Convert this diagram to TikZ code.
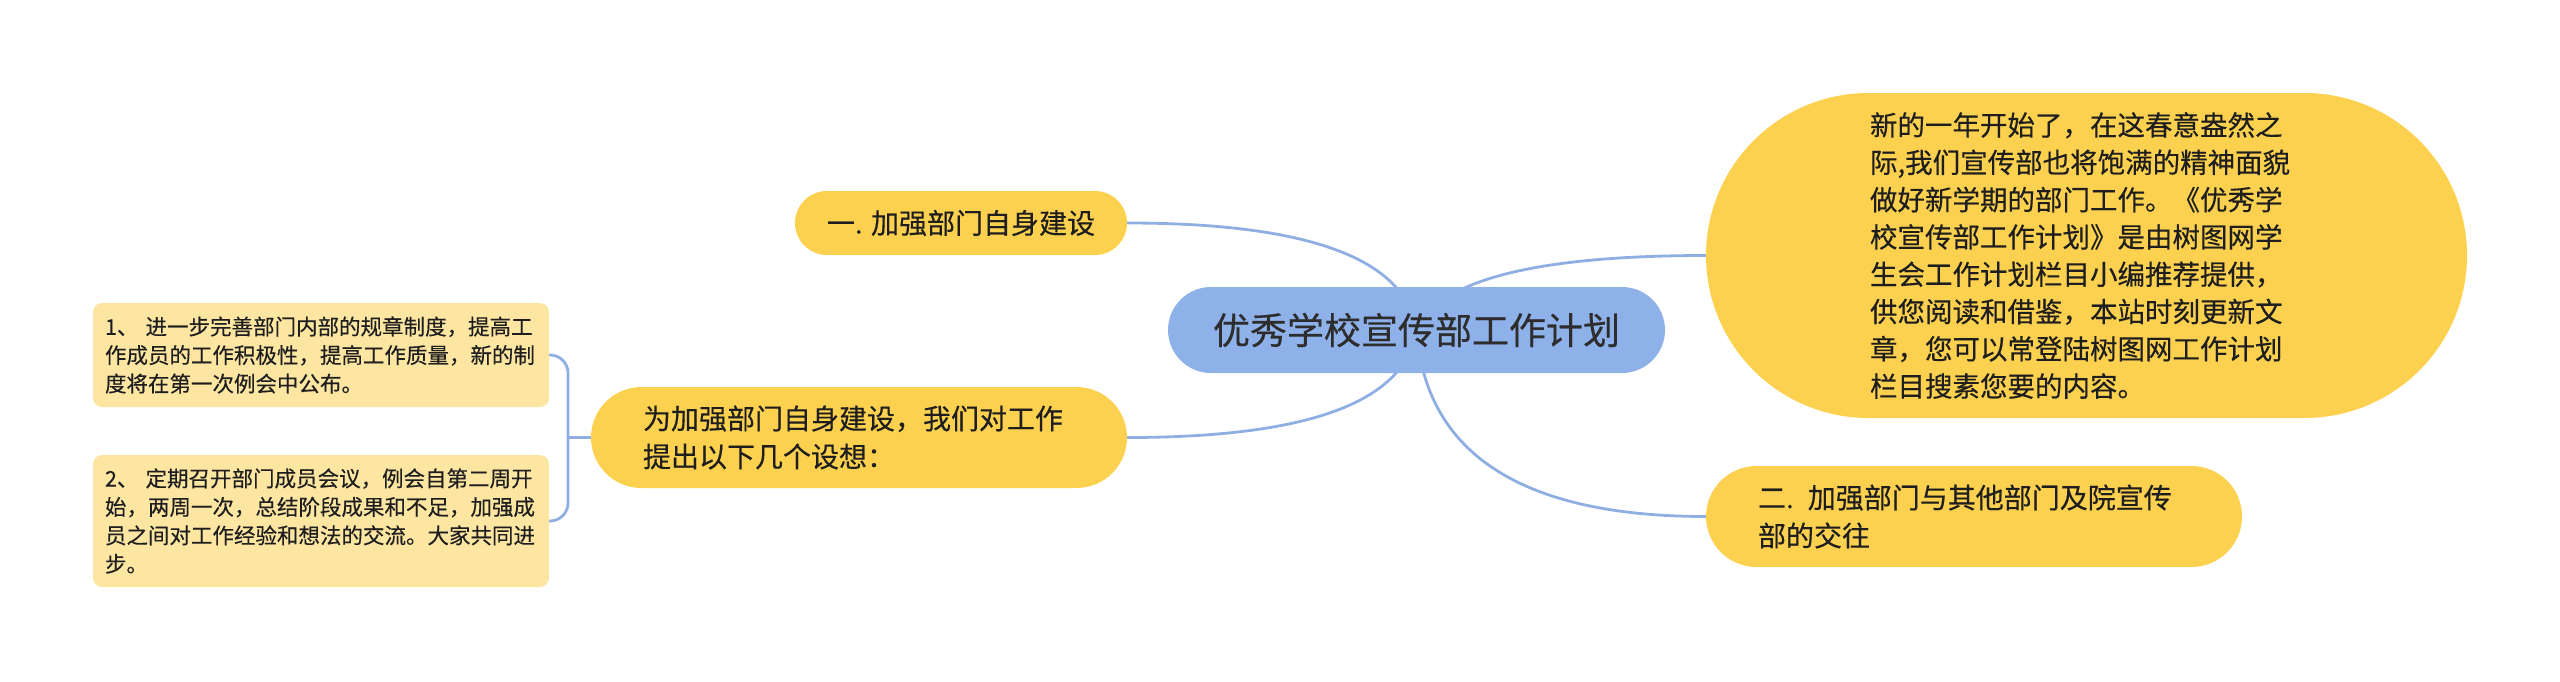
\documentclass[tikz,border=0pt]{standalone}
\usepackage{fontspec}
\setmainfont{Noto Sans CJK SC}[FakeBold=0.35]
\usetikzlibrary{backgrounds}
\definecolor{ybox}{RGB}{253,209,80}
\definecolor{lbox}{RGB}{253,230,162}
\definecolor{cbox}{RGB}{143,177,233}
\definecolor{conn}{RGB}{143,174,226}
\definecolor{txt}{RGB}{30,30,30}
\definecolor{ctxt}{RGB}{45,45,45}
\begin{document}
\begin{tikzpicture}[x=1pt,y=-1pt,
  every node/.style={inner sep=0pt, outer sep=0pt},
  link/.style={draw=conn, line width=2.8pt},
  topic/.style={fill=ybox, text=txt, font=\fontsize{28}{38}\selectfont, align=left},
  leaf/.style={fill=lbox, text=txt, rounded corners=9pt, font=\fontsize{21.5}{28.5}\selectfont, align=left, minimum width=456pt, text width=432pt, inner xsep=12pt},
]
\useasboundingbox (0,0) rectangle (2560,681);
\node[fill=cbox, rounded corners=43pt, minimum width=497pt, minimum height=86pt, text=ctxt, font=\fontsize{37}{44}\selectfont] (c) at (1416.5,330) {优秀学校宣传部工作计划};
\node[topic, rounded corners=32pt, minimum width=332pt, minimum height=64pt, align=center] (a) at (961,223) {一. 加强部门自身建设};
\node[topic, rounded corners=50.5pt, minimum height=101pt, text width=432pt, inner xsep=52pt] (b) at (859,437.5) {为加强部门自身建设，我们对工作\\提出以下几个设想：};
\node[topic, rounded corners=162.5pt, minimum height=325pt, text width=433pt, inner xsep=164pt, font=\fontsize{27.5}{37.3}\selectfont] (r) at (2086.5,255.5) {新的一年开始了，在这春意盎然之\\际,我们宣传部也将饱满的精神面貌\\做好新学期的部门工作。《优秀学\\校宣传部工作计划》是由树图网学\\生会工作计划栏目小编推荐提供，\\供您阅读和借鉴，本站时刻更新文\\章，您可以常登陆树图网工作计划\\栏目搜素您要的内容。};
\node[topic, rounded corners=50.5pt, minimum height=101pt, text width=432pt, inner xsep=52pt] (d) at (1974,516.5) {二. 加强部门与其他部门及院宣传\\部的交往};
\node[leaf, minimum height=104pt] (l1) at (321,355) {1、 进一步完善部门内部的规章制度，提高工\\作成员的工作积极性，提高工作质量，新的制\\度将在第一次例会中公布。};
\node[leaf, minimum height=132pt] (l2) at (321,521) {2、 定期召开部门成员会议，例会自第二周开\\始，两周一次，总结阶段成果和不足，加强成\\员之间对工作经验和想法的交流。大家共同进\\步。};
\coordinate (bk) at (568,437.5);
\begin{scope}[on background layer]
\draw[link] (c.center) .. controls (1405.3,258.7) and (1309,223) .. (a.east);
\draw[link] (c.center) .. controls (1405.3,402) and (1309,437.5) .. (b.east);
\draw[link] (c.center) .. controls (1438.7,280) and (1535.3,255.5) .. (r.west);
\draw[link] (c.center) .. controls (1425.3,454) and (1522,516.5) .. (d.west);
\draw[link, rounded corners=18pt] (l1.east) -| (bk) |- (l2.east);
\draw[link] (b.west) -- (bk);
\end{scope}
\end{tikzpicture}
\end{document}
